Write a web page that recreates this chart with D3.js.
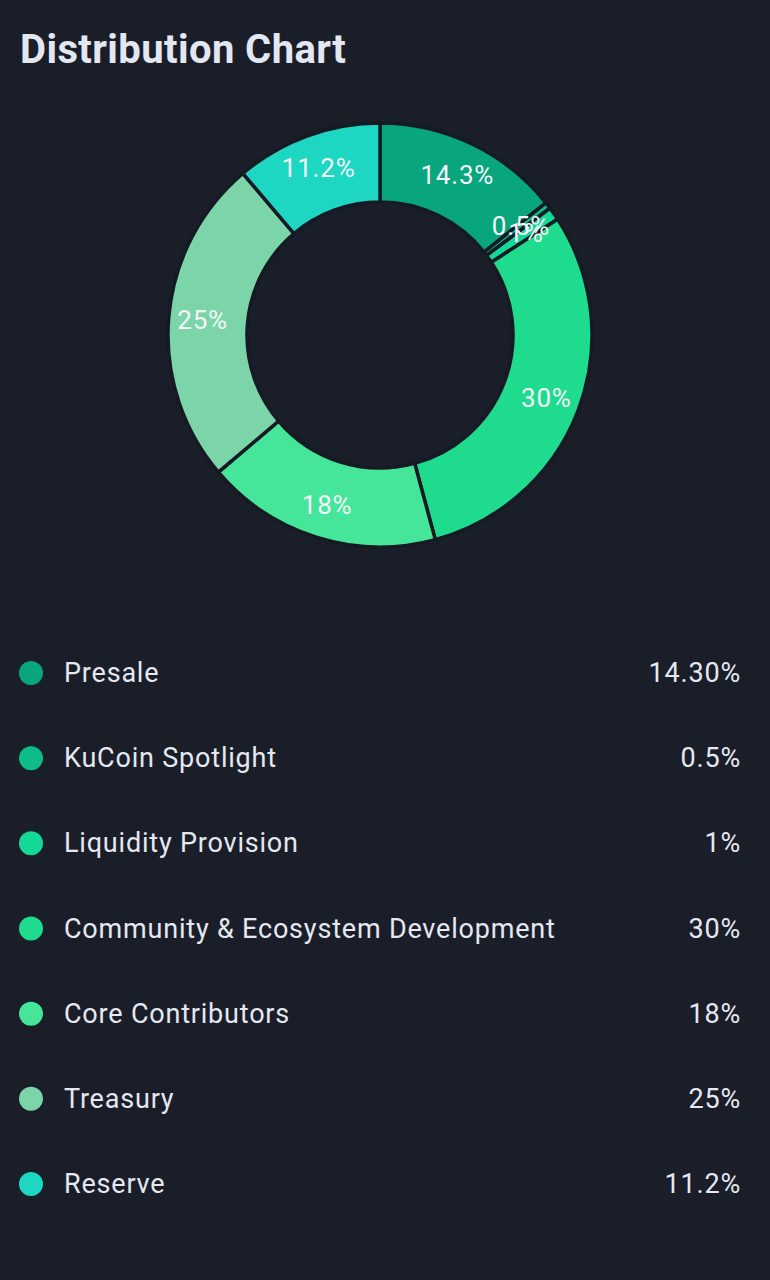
<!DOCTYPE html>
<html><head><meta charset="utf-8">
<script src="https://cdn.jsdelivr.net/npm/d3@7/dist/d3.min.js"></script>
<style>
html,body{margin:0;padding:0;background:#1a1e29;}
svg{display:block;}
</style></head>
<body>
<svg id="chart" width="770" height="1280"></svg>
<script>
const categories = ["Presale","KuCoin Spotlight","Liquidity Provision","Community & Ecosystem Development","Core Contributors","Treasury","Reserve"];
const values = [14.3, 0.5, 1, 30, 18, 25, 11.2];
const sliceLabels = ["14.3%","0.5%","1%","30%","18%","25%","11.2%"];
const legendValues = ["14.30%","0.5%","1%","30%","18%","25%","11.2%"];
const colors = ["#09a57d","#0dbc88","#14d898","#1fdb8d","#45e699","#7bd5a8","#1dd7c2"];

const svg = d3.select("#chart");
const font = "Roboto, 'Noto Sans', sans-serif";

svg.append("rect").attr("width",770).attr("height",1280).attr("fill","#1a1e29");

svg.append("text").attr("x",20).attr("y",63)
  .attr("font-family",font).attr("font-weight",700).attr("font-size",40)
  .attr("letter-spacing",0.4)
  .attr("fill","#e3e7f1").text("Distribution Chart");

const cx = 380, cy = 335, rOuter = 212, rInner = 133, rLabel = 178;
const data = categories.map((c,i)=>({name:c,value:values[i],label:sliceLabels[i],color:colors[i]}));
const pie = d3.pie().sort(null).value(d=>d.value);
const arc = d3.arc().innerRadius(rInner).outerRadius(rOuter);
const labelArc = d3.arc().innerRadius(rLabel).outerRadius(rLabel);

const g = svg.append("g").attr("transform",`translate(${cx},${cy})`);
const arcs = pie(data);
g.selectAll("path").data(arcs).join("path")
  .attr("d",arc).attr("fill",d=>d.data.color)
  .attr("stroke","#161a24").attr("stroke-width",3.5).attr("stroke-linejoin","miter");

g.selectAll("text").data(arcs).join("text")
  .attr("transform",d=>`translate(${labelArc.centroid(d)})`)
  .attr("text-anchor","middle").attr("dominant-baseline","central")
  .attr("font-family",font).attr("font-size",26).attr("letter-spacing",0.8)
  .attr("fill","#f4f7fa").text(d=>d.data.label);

const legendY = d3.scalePoint().domain(categories).range([673,1184]);
const lg = svg.append("g").selectAll("g").data(data).join("g")
  .attr("transform",d=>`translate(0,${legendY(d.name)})`);
lg.append("circle").attr("cx",31).attr("cy",0).attr("r",12).attr("fill",d=>d.color);
lg.append("text").attr("x",64).attr("y",0).attr("dominant-baseline","central")
  .attr("font-family",font).attr("font-size",27).attr("letter-spacing",0.8)
  .attr("fill","#e5e8f0").text(d=>d.name);
lg.append("text").attr("x",741).attr("y",0).attr("text-anchor","end").attr("dominant-baseline","central")
  .attr("font-family",font).attr("font-size",27).attr("letter-spacing",0.8)
  .attr("fill","#e5e8f0")
  .text((d,i)=>legendValues[i]);
</script>
</body></html>
